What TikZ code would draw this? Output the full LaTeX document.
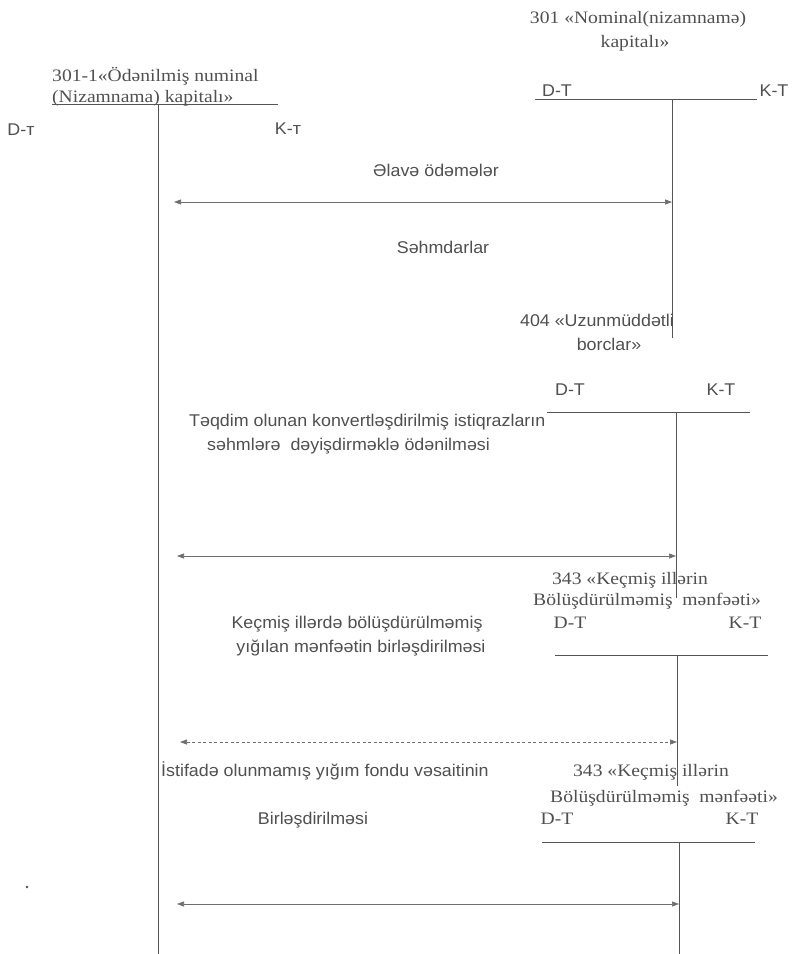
\documentclass[tikz,border=0pt]{standalone}
\usepackage{fontspec}
\setmainfont{Liberation Serif}
\setsansfont{Liberation Sans}
\newfontfamily\widesans[FakeStretch=1.05]{Liberation Sans}
\newfontfamily\wideserif[FakeStretch=1.12]{Liberation Serif}
\usetikzlibrary{arrows.meta}
\definecolor{ink}{HTML}{505050}
\definecolor{rule}{HTML}{555555}
\tikzset{
  sanslbl/.style={font=\widesans\fontsize{17}{20}\selectfont, text=ink, inner sep=0pt},
  seriflbl/.style={font=\wideserif\fontsize{17.5}{20}\selectfont, text=ink, inner sep=0pt},
  tline/.style={draw=rule, line width=0.9pt},
  flow/.style={draw=rule!85, line width=0.7pt, {Triangle[length=7pt,width=5pt]}-{Triangle[length=7pt,width=5pt]}},
  dotflow/.style={flow, dash pattern=on 3pt off 2.5pt},
}
\begin{document}
\begin{tikzpicture}[x=1pt,y=-1pt]
\useasboundingbox[fill=white] (0,0) rectangle (792,954);

% account 301-1 (left T-account)
\node[seriflbl, anchor=west] (t1a) at (52,76) {301-1«Ödənilmiş numinal};
\node[seriflbl, anchor=west] (t1b) at (52,98) {(Nizamnama) kapitalı»};
\coordinate (l1) at (52,104);
\coordinate (r1) at (278,104);
\coordinate (v1top) at (158,104);
\coordinate (v1bot) at (158,954);
\draw[tline] (l1) -- (r1);
\draw[tline] (v1top) -- (v1bot);
\node[sanslbl] (d1) at (21,130) {D-т};
\node[sanslbl] (k1) at (288,129) {K-т};

% account 301
\node[seriflbl] (t2a) at (638,19) {301 «Nominal(nizamnamə)};
\node[seriflbl] (t2b) at (635,43) {kapitalı»};
\coordinate (l2) at (535,99);
\coordinate (r2) at (757,99);
\coordinate (v2top) at (672,99);
\coordinate (v2bot) at (672,338);
\draw[tline] (l2) -- (r2);
\draw[tline] (v2top) -- (v2bot);
\node[sanslbl] (d2) at (557,91) {D-T};
\node[sanslbl] (k2) at (774,91) {K-T};

% entry 1
\node[sanslbl] (e1a) at (436,170) {Əlavə ödəmələr};
\node[sanslbl] (e1b) at (443,247) {Səhmdarlar};
\coordinate (a1s) at (174,202);
\coordinate (a1e) at (672,202);
\draw[flow] (a1s) -- (a1e);

% account 404
\node[sanslbl] (t3a) at (597,320) {404 «Uzunmüddətli};
\node[sanslbl] (t3b) at (609,344) {borclar»};
\node[sanslbl] (d3) at (570,390) {D-T};
\node[sanslbl] (k3) at (721,390) {K-T};
\coordinate (l3) at (547,412);
\coordinate (r3) at (750,412);
\coordinate (v3top) at (676,412);
\coordinate (v3bot) at (676,598);
\draw[tline] (l3) -- (r3);
\draw[tline] (v3top) -- (v3bot);

% entry 2
\node[sanslbl, anchor=west] (e2a) at (189,422) {Təqdim olunan konvertləşdirilmiş istiqrazların};
\node[sanslbl, anchor=west] (e2b) at (207,446) {səhmlərə\ \ dəyişdirməklə ödənilməsi};
\coordinate (a2s) at (177,556);
\coordinate (a2e) at (676,556);
\draw[flow] (a2s) -- (a2e);

% account 343 (first)
\node[seriflbl] (t4a) at (630,580) {343 «Keçmiş illərin};
\node[seriflbl] (t4b) at (647,601) {Bölüşdürülməmiş\ \ mənfəəti»};
\node[seriflbl] (d4) at (570,623) {D-T};
\node[seriflbl] (k4) at (745,623) {K-T};
\coordinate (l4) at (555,655);
\coordinate (r4) at (768,655);
\coordinate (v4top) at (677,655);
\coordinate (v4bot) at (677,786);
\draw[tline] (l4) -- (r4);
\draw[tline] (v4top) -- (v4bot);

% entry 3
\node[sanslbl] (e3a) at (357,624) {Keçmiş illərdə bölüşdürülməmiş};
\node[sanslbl] (e3b) at (361,648) {yığılan mənfəətin birləşdirilməsi};
\coordinate (a3s) at (180,742);
\coordinate (a3e) at (677,742);
\draw[dotflow] (a3s) -- (a3e);

% entry 4
\node[sanslbl, anchor=west] (e4a) at (161,771) {İstifadə olunmamış yığım fondu vəsaitinin};
\node[sanslbl] (e4b) at (313,820) {Birləşdirilməsi};

% account 343 (second)
\node[seriflbl] (t5a) at (651,772) {343 «Keçmiş illərin};
\node[seriflbl] (t5b) at (664,798) {Bölüşdürülməmiş\ \ mənfəəti»};
\node[seriflbl] (d5) at (557,819) {D-T};
\node[seriflbl] (k5) at (742,819) {K-T};
\coordinate (l5) at (542,842);
\coordinate (r5) at (755,842);
\coordinate (v5top) at (679,842);
\coordinate (v5bot) at (679,954);
\draw[tline] (l5) -- (r5);
\draw[tline] (v5top) -- (v5bot);

\coordinate (a4s) at (177,904);
\coordinate (a4e) at (679,904);
\draw[flow] (a4s) -- (a4e);

% stray mark at the lower left
\fill[ink] (27,887) circle (1.3pt);
\end{tikzpicture}
\end{document}
